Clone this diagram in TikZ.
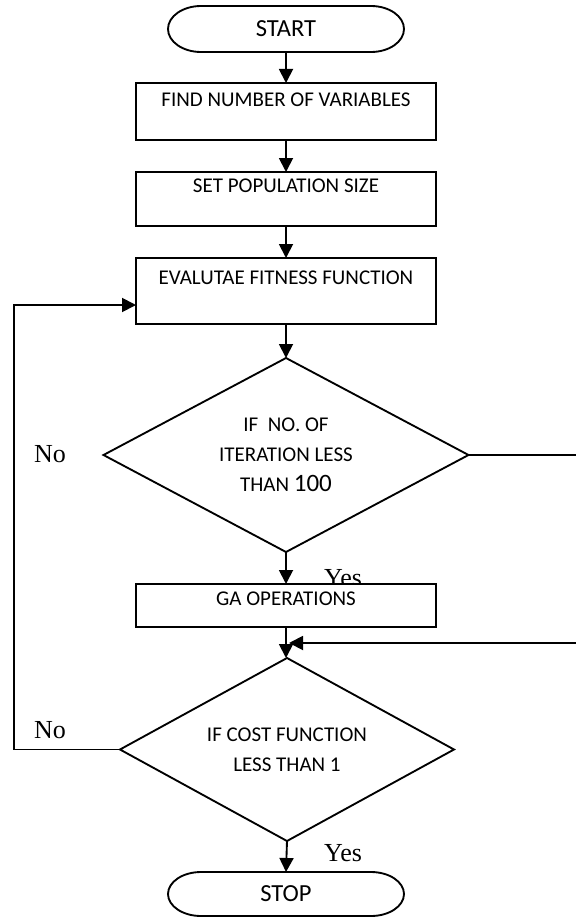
\documentclass[tikz,border=0pt]{standalone}
\usepackage{fontspec}
\newfontfamily\calib{Carlito}
\newfontfamily\tnr{Liberation Serif}
\usetikzlibrary{shapes.geometric,arrows.meta}
\begin{document}
\begin{tikzpicture}[x=0.75pt,y=-0.75pt,
  every node/.style={inner sep=0pt, outer sep=0pt},
  lw/.style={line width=1.4pt},
  boxfont/.style={font=\calib\fontsize{15.75pt}{22.5pt}\selectfont},
  procbox/.style={draw, lw, fill=white, rectangle, minimum width=225pt, boxfont},
  termtext/.style={rectangle, minimum width=177pt, font=\calib\fontsize{18.4pt}{22.5pt}\selectfont},
  decision/.style={draw, lw, fill=white, diamond, aspect=1.9, align=center, boxfont},
  lbl/.style={font=\tnr\fontsize{19.5pt}{22pt}\selectfont, anchor=base},
  arr/.style={lw, -{Triangle[length=10.5pt,width=10.5pt]}}]

\useasboundingbox (0,0) rectangle (575,917);
\fill[white] (0,0) rectangle (575,917);

% START terminal
\node[termtext, minimum height=34.5pt] (start) at (286,29) {START};
\draw[lw] ([xshift=24.75pt]start.north west) -- ([xshift=-24.75pt]start.north east)
  arc[start angle=90,end angle=-90,x radius=24.75pt,y radius=17.25pt]
  -- ([xshift=24.75pt]start.south west)
  arc[start angle=270,end angle=90,x radius=24.75pt,y radius=17.25pt] -- cycle;

% process boxes
\node[procbox, text height=17.25pt, text depth=25.5pt] (find) at (286,111.5) {FIND NUMBER OF VARIABLES};
\node[procbox, text height=15pt, text depth=25.5pt] (setpop) at (286,199) {SET POPULATION SIZE};
\node[procbox, text height=19.5pt, text depth=30pt] (eval) at (286,291) {EVALUTAE FITNESS FUNCTION};

% decision 1
\node[decision, minimum width=273.75pt, minimum height=145.5pt] (d1) at (286,455)
  {IF\ \ NO. OF\\ITERATION LESS\\THAN {\fontsize{18.75pt}{22.5pt}\selectfont 100}};

% labels
\node[lbl] (yes1) at (343,586) {Yes};
\node[lbl] (no1) at (50,462) {No};

% GA box
\node[procbox, text height=15.75pt, text depth=16.5pt] (ga) at (286,605.5) {GA OPERATIONS};

% decision 2
\node[decision, minimum width=250.5pt, minimum height=137.25pt] (d2) at (287,749.5)
  {IF COST FUNCTION\\LESS THAN 1};

\node[lbl] (no2) at (50,738) {No};
\node[lbl] (yes2) at (343,861) {Yes};

% STOP terminal
\node[termtext, minimum height=33pt] (stop) at (286,894) {STOP};
\draw[lw] ([xshift=24.75pt]stop.north west) -- ([xshift=-24.75pt]stop.north east)
  arc[start angle=90,end angle=-90,x radius=24.75pt,y radius=16.5pt]
  -- ([xshift=24.75pt]stop.south west)
  arc[start angle=270,end angle=90,x radius=24.75pt,y radius=16.5pt] -- cycle;

% connectors
\draw[arr] (start.south) -- (find.north);
\draw[arr] (find.south) -- (setpop.north);
\draw[arr] (setpop.south) -- (eval.north);
\draw[arr] (eval.south) -- (d1.north);
\draw[arr] (d1.south) -- (ga.north);
\draw[arr] (ga.south) -- (ga.south |- d2.north);
\draw[arr] (d2.south) -- (stop.north);

% feedback loop (No)
\coordinate (fb) at (14,305);
\coordinate (evin) at ([yshift=-10.5pt]eval.west);
\draw[arr] (d2.west) -| (fb) -- (evin);

% right connector (No of first decision)
\coordinate (rc) at (578,643);
\coordinate (join) at (289,643);
\draw[arr] (d1.east) -| (rc) -- (join);
\end{tikzpicture}
\end{document}
